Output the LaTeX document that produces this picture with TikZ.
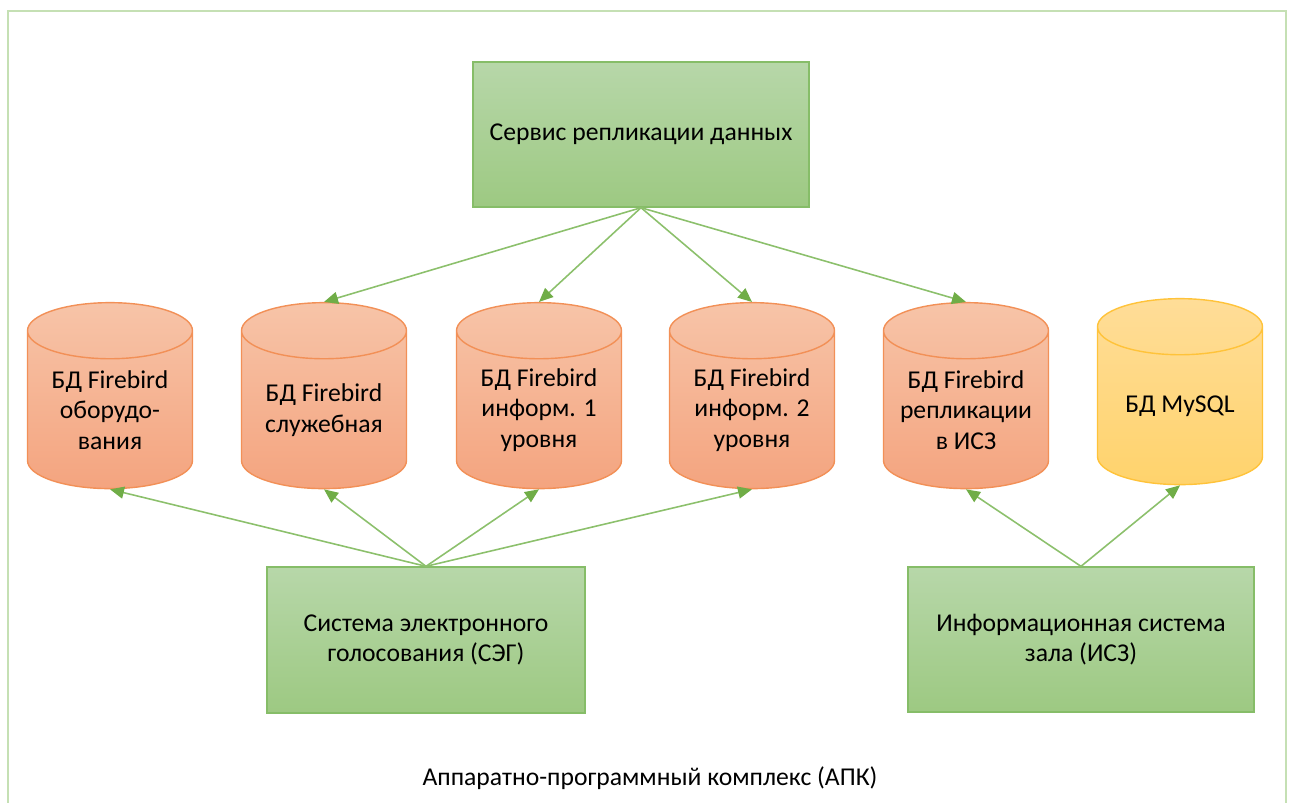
\documentclass[tikz,border=0pt]{standalone}
\usepackage{fontspec}
\setmainfont{Carlito}
\usetikzlibrary{shapes.geometric, arrows.meta}
\definecolor{frame}{HTML}{C5E0B4}
\definecolor{boxtop}{HTML}{B7D7A9}
\definecolor{boxbot}{HTML}{9DC982}
\definecolor{boxline}{HTML}{86BD68}
\definecolor{fbtop}{HTML}{F7C4A8}
\definecolor{fbbot}{HTML}{F4A47F}
\definecolor{fbline}{HTML}{F29057}
\definecolor{sqltop}{HTML}{FFDD98}
\definecolor{sqlbot}{HTML}{FFD36C}
\definecolor{sqlline}{HTML}{FFC33A}
\definecolor{linkgreen}{HTML}{8CC06C}
\definecolor{tipgreen}{HTML}{70AD47}
\tikzset{
	service/.style={
		draw=boxline,
		line width=0.8pt,
		top color=boxtop,
		bottom color=boxbot,
		align=center,
		inner sep=0pt,
		font=\fontsize{14.6}{17.5}\selectfont
	},
	db/.style={
		cylinder,
		shape border rotate=90,
		aspect=0.34,
		draw=fbline,
		line width=0.8pt,
		top color=fbtop,
		bottom color=fbbot,
		text width=3.3cm,
		align=flush center,
		minimum width=3.3cm,
		minimum height=3.72cm,
		inner sep=0pt,
		font=\fontsize{14.6}{17.5}\selectfont
	},
	mysql/.style={
		db,
		draw=sqlline,
		top color=sqltop,
		bottom color=sqlbot
	},
	link/.style={
		-{Triangle[length=0.28cm, width=0.24cm, color=tipgreen]},
		draw=linkgreen,
		line width=0.9pt
	}
}

\begin{document}
\begin{tikzpicture}[x=0.02cm, y=-0.02cm]
		\useasboundingbox (0,0) rectangle (1291,802);
		\draw[frame, line width=1.4pt] (8,812) -- (8,11) -- (1286,11) -- (1286,812);
		
		% replication service
		\node(srv) at (641,134.5) [service, minimum width=6.72cm, minimum height=2.9cm] {Сервис репликации данных};
		
		% databases
		\node(c1) at (110,410) [db] {БД Firebird\\оборудо-\\вания};
		\node(c2) at (324,410) [db] {БД Firebird\\служебная};
		\node(c3) at (539,410) [db] {БД Firebird\\информ. 1\\уровня};
		\node(c4) at (752,410) [db] {БД Firebird\\информ. 2\\уровня};
		\node(c5) at (966,410) [db] {БД Firebird\\репликации\\в ИСЗ};
		\node(c6) at (1180,406) [mysql] {БД MySQL};
		
		% systems
		\node(seg) at (426,640) [service, minimum width=6.36cm, minimum height=2.92cm] {Система электронного\\голосования (СЭГ)};
		\node(isz) at (1081,639.5) [service, minimum width=6.92cm, minimum height=2.9cm] {Информационная система\\зала (ИСЗ)};
		
		\node(apk) at (650,778) [font=\fontsize{14.6}{17.5}\selectfont] {Аппаратно-программный комплекс (АПК)};
		
		\draw[link] (srv.south) -- (c2.top);
		\draw[link] (srv.south) -- (c3.top);
		\draw[link] (srv.south) -- (c4.top);
		\draw[link] (srv.south) -- (c5.top);
		
		\draw[link] (seg.north) -- (c1.bottom);
		\draw[link] (seg.north) -- (c2.bottom);
		\draw[link] (seg.north) -- (c3.bottom);
		\draw[link] (seg.north) -- (c4.bottom);
		
		\draw[link] (isz.north) -- (c5.bottom);
		\draw[link] (isz.north) -- (c6.bottom);
\end{tikzpicture}
\end{document}
